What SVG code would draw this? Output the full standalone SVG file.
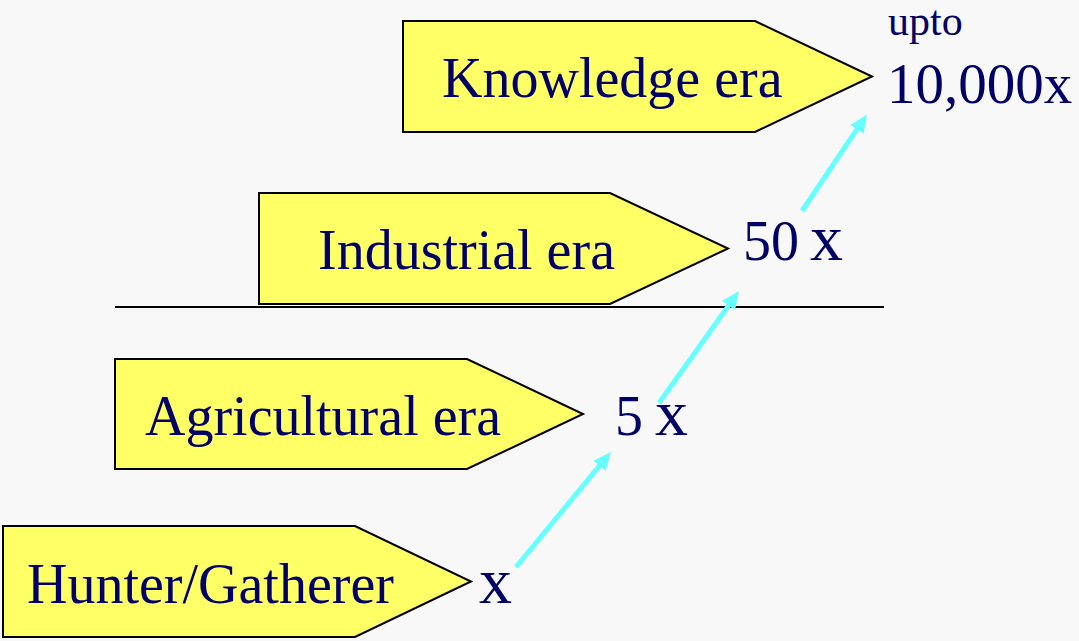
<svg xmlns="http://www.w3.org/2000/svg" width="1079" height="641" viewBox="0 0 1079 641">
<style>
.box{fill:#FFFF66;stroke:#000;stroke-width:2;stroke-linejoin:miter}
.t{font-family:"Liberation Serif","Times New Roman",serif;fill:#000066;font-size:56px}
.big{font-size:66px}
.arr{stroke:#66FFFF;stroke-width:5;fill:none;marker-end:url(#ah)}
</style>
<defs>
<marker id="ah" viewBox="0 0 18 16" refX="8" refY="8" markerWidth="18" markerHeight="16" markerUnits="userSpaceOnUse" orient="auto">
<path d="M0,0 L18,8 L0,16 Z" fill="#66FFFF"/>
</marker>
</defs>
<rect width="1079" height="641" fill="#F8F8F8"/>
<line x1="115" y1="307" x2="884" y2="307" stroke="#000" stroke-width="2"/>
<g id="knowledge">
<polygon class="box" points="403,21 755,21 872,76.5 755,132 403,132"/>
<text class="t" x="442" y="97">Knowledge era</text>
</g>
<g id="industrial">
<polygon class="box" points="259,193 610,193 728,248.5 610,304 259,304"/>
<text class="t" x="318" y="269">Industrial era</text>
</g>
<g id="agricultural">
<polygon class="box" points="115,359 467,359 583,414 467,469 115,469"/>
<text class="t" x="145" y="435">Agricultural era</text>
</g>
<g id="hunter">
<polygon class="box" points="3,526 355,526 471,581.5 355,637 3,637"/>
<text class="t" x="27" y="603">Hunter/Gatherer</text>
</g>
<g id="labels">
<text class="t big" x="479" y="603">x</text>
<text class="t" x="615" y="435">5</text>
<text class="t big" x="655" y="435">x</text>
<text class="t" x="743" y="260">50</text>
<text class="t big" x="810" y="260">x</text>
<text class="t" x="888" y="35" style="font-size:42px">upto</text>
<text class="t" x="887" y="103" style="font-size:57px">10,000x</text>
</g>
<g id="connectors">
<line class="arr" x1="516" y1="567" x2="604.6" y2="459.7"/>
<line class="arr" x1="659" y1="403" x2="733.2" y2="299.1"/>
<line class="arr" x1="802" y1="211" x2="861.4" y2="122.7"/>
</g>
</svg>
